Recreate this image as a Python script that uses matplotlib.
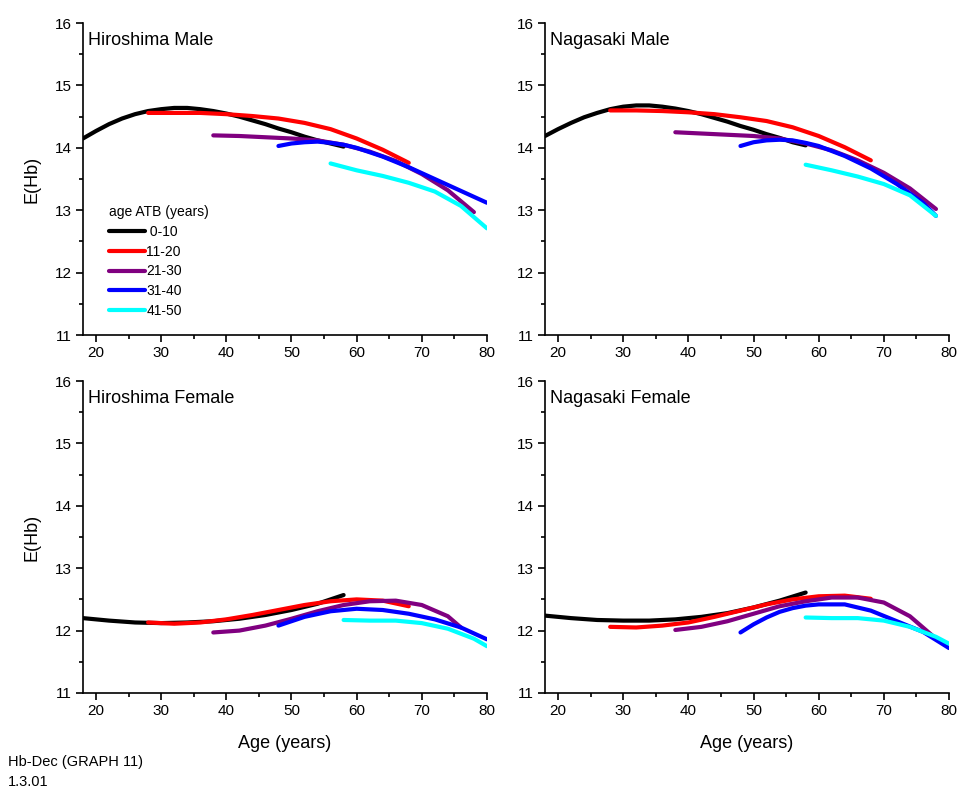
import matplotlib
matplotlib.use("Agg")
import matplotlib.pyplot as plt
from matplotlib.ticker import MultipleLocator

plt.rcParams['font.family'] = ['Liberation Sans', 'DejaVu Sans']

groups = ["0-10", "11-20", "21-30", "31-40", "41-50"]
colors = ["black", "#ff0000", "#800080", "#0000ff", "#00ffff"]

# Hiroshima Male
hm_x = [
    [18, 20, 22, 24, 26, 28, 30, 32, 34, 36, 38, 40, 42, 44, 46, 48, 50, 52, 54, 56, 58],
    [28, 32, 36, 40, 44, 48, 52, 56, 60, 64, 68],
    [38, 42, 46, 50, 54, 58, 62, 66, 70, 74, 78],
    [48, 50, 52, 54, 56, 58, 60, 64, 68, 72, 76, 80],
    [56, 60, 64, 68, 72, 76, 80],
]
hm_y = [
    [14.15, 14.27, 14.38, 14.47, 14.54, 14.59, 14.62, 14.64, 14.64, 14.62, 14.59,
     14.55, 14.50, 14.44, 14.38, 14.31, 14.25, 14.18, 14.12, 14.07, 14.02],
    [14.56, 14.56, 14.56, 14.54, 14.51, 14.47, 14.40, 14.30, 14.15, 13.97, 13.76],
    [14.20, 14.19, 14.17, 14.15, 14.12, 14.05, 13.94, 13.79, 13.58, 13.32, 12.97],
    [14.03, 14.07, 14.09, 14.10, 14.08, 14.05, 14.00, 13.86, 13.69, 13.50, 13.31, 13.12],
    [13.75, 13.64, 13.55, 13.44, 13.30, 13.07, 12.71],
]

# Nagasaki Male
nm_x = [
    [18, 20, 22, 24, 26, 28, 30, 32, 34, 36, 38, 40, 42, 44, 46, 48, 50, 52, 54, 56, 58],
    [28, 32, 36, 40, 44, 48, 52, 56, 60, 64, 68],
    [38, 42, 46, 50, 54, 58, 62, 66, 70, 74, 78],
    [48, 50, 52, 54, 56, 58, 60, 64, 68, 72, 76, 78],
    [58, 62, 66, 70, 74, 78],
]
nm_y = [
    [14.19, 14.30, 14.40, 14.49, 14.56, 14.62, 14.66, 14.68, 14.68, 14.66, 14.63,
     14.59, 14.54, 14.48, 14.42, 14.35, 14.29, 14.22, 14.16, 14.09, 14.04],
    [14.60, 14.60, 14.59, 14.57, 14.54, 14.49, 14.43, 14.33, 14.19, 14.01, 13.80],
    [14.25, 14.23, 14.21, 14.19, 14.15, 14.07, 13.96, 13.80, 13.60, 13.35, 13.02],
    [14.03, 14.09, 14.12, 14.13, 14.12, 14.08, 14.03, 13.87, 13.67, 13.42, 13.12, 12.91],
    [13.73, 13.64, 13.54, 13.42, 13.24, 12.91],
]

# Hiroshima Female
hf_x = [
    [18, 22, 26, 30, 34, 38, 42, 46, 50, 54, 58],
    [28, 32, 36, 40, 44, 48, 52, 56, 60, 64, 68],
    [38, 42, 46, 50, 54, 58, 62, 66, 70, 74, 76],
    [48, 52, 56, 60, 64, 68, 72, 76, 80],
    [58, 62, 66, 70, 74, 78, 80],
]
hf_y = [
    [12.20, 12.16, 12.13, 12.12, 12.13, 12.15, 12.19, 12.25, 12.33, 12.43, 12.57],
    [12.13, 12.11, 12.13, 12.18, 12.25, 12.33, 12.41, 12.47, 12.50, 12.48, 12.39],
    [11.97, 12.00, 12.08, 12.19, 12.31, 12.41, 12.47, 12.48, 12.41, 12.23, 12.05],
    [12.08, 12.22, 12.31, 12.35, 12.33, 12.27, 12.18, 12.05, 11.86],
    [12.17, 12.16, 12.16, 12.12, 12.03, 11.87, 11.75],
]

# Nagasaki Female
nf_x = [
    [18, 22, 26, 30, 34, 38, 42, 46, 50, 54, 58],
    [28, 32, 36, 40, 44, 48, 52, 56, 60, 64, 68],
    [38, 42, 46, 50, 54, 58, 62, 66, 70, 74, 78],
    [48, 50, 52, 54, 56, 58, 60, 64, 68, 72, 76, 80],
    [58, 62, 66, 70, 74, 78, 80],
]
nf_y = [
    [12.24, 12.20, 12.17, 12.16, 12.16, 12.18, 12.22, 12.28, 12.37, 12.48, 12.61],
    [12.06, 12.05, 12.08, 12.13, 12.22, 12.32, 12.42, 12.50, 12.55, 12.56, 12.51],
    [12.01, 12.06, 12.15, 12.27, 12.39, 12.47, 12.53, 12.53, 12.45, 12.23, 11.87],
    [11.97, 12.10, 12.21, 12.30, 12.36, 12.40, 12.42, 12.42, 12.32, 12.15, 11.98, 11.72],
    [12.21, 12.20, 12.20, 12.16, 12.06, 11.90, 11.79],
]

panels = [
    ("Hiroshima Male", hm_x, hm_y, [0.0866, 0.5759, 0.4217, 0.3949]),
    ("Nagasaki Male", nm_x, nm_y, [0.5689, 0.5759, 0.4217, 0.3949]),
    ("Hiroshima Female", hf_x, hf_y, [0.0866, 0.1228, 0.4217, 0.3949]),
    ("Nagasaki Female", nf_x, nf_y, [0.5689, 0.1228, 0.4217, 0.3949]),
]

fig = plt.figure(figsize=(9.58, 7.9), dpi=100)

axes = []
for name, xs, ys, rect in panels:
    ax = fig.add_axes(rect)
    for x, y, c, g in zip(xs, ys, colors, groups):
        ax.plot(x, y, color=c, lw=3, solid_capstyle="round", label=g)
    ax.set_xlim(18, 80)
    ax.set_ylim(11, 16)
    ax.xaxis.set_major_locator(MultipleLocator(10))
    ax.xaxis.set_minor_locator(MultipleLocator(5))
    ax.yaxis.set_major_locator(MultipleLocator(1))
    ax.yaxis.set_minor_locator(MultipleLocator(0.5))
    ax.spines["top"].set_visible(False)
    ax.spines["right"].set_visible(False)
    for s in ("left", "bottom"):
        ax.spines[s].set_linewidth(1.2)
    ax.tick_params(which="major", direction="out", length=5, width=1.2, labelsize=11, pad=3)
    ax.tick_params(which="minor", direction="out", length=3, width=1.2)
    ax.text(0.012, 0.97, name, transform=ax.transAxes, ha="left", va="top", fontsize=13)
    axes.append(ax)

axes[0].set_ylabel("E(Hb)", fontsize=13, labelpad=10)
axes[2].set_ylabel("E(Hb)", fontsize=13, labelpad=10)
axes[2].set_xlabel("Age (years)", fontsize=13, labelpad=12)
axes[3].set_xlabel("Age (years)", fontsize=13, labelpad=12)

labels = [" 0-10", "11-20", "21-30", "31-40", "41-50"]
handles = axes[0].get_lines()
leg = axes[0].legend(handles, labels, title="age ATB (years)", loc="upper left",
                     bbox_to_anchor=(0.05, 0.435), frameon=False, fontsize=10,
                     title_fontsize=10, handlelength=2.6, handletextpad=0.1,
                     labelspacing=0.42, borderaxespad=0)
leg._legend_box.align = "left"

fig.text(0.008, 0.035, "Hb-Dec (GRAPH 11)", fontsize=10.5, ha="left", va="center")
fig.text(0.008, 0.01, "1.3.01", fontsize=10.5, ha="left", va="center")

fig.savefig("out.png", dpi=100)
